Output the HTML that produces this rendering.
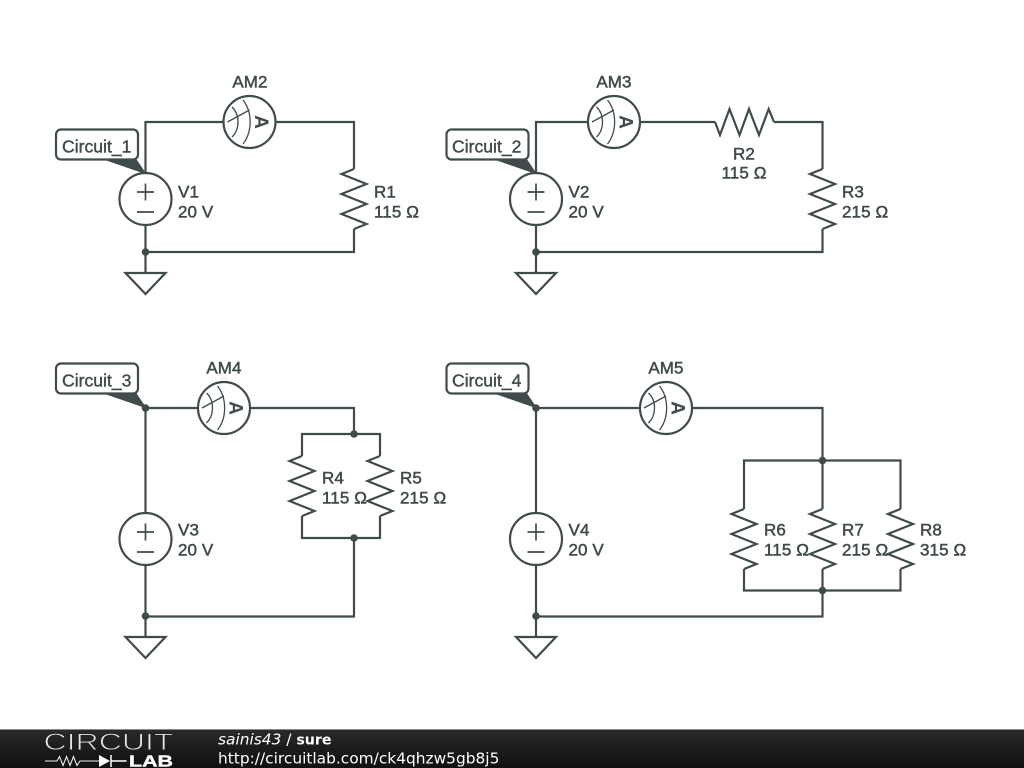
<!DOCTYPE html>
<html><head><meta charset="utf-8"><style>
html,body{margin:0;padding:0;background:#fff;width:1024px;height:768px;overflow:hidden}
svg{display:block;position:absolute;left:0;top:0}
.w{fill:none;stroke:#404b4b;stroke-width:2.2;stroke-linejoin:miter}
.t{font-family:"Liberation Sans",sans-serif;font-size:17px;letter-spacing:.1px;font-weight:400;fill:#404b4b;stroke:#404b4b;stroke-width:.5}
.c{font-family:"Liberation Sans",sans-serif;font-size:17.6px;fill:#404b4b;stroke:#404b4b;stroke-width:.4}
.f{font-family:"DejaVu Sans",sans-serif;font-size:15.4px;fill:#fff}
</style></head><body>
<svg width="1024" height="768" viewBox="0 0 1024 768" xmlns="http://www.w3.org/2000/svg">
<defs>
<linearGradient id="bar" x1="0" y1="0" x2="0" y2="1"><stop offset="0" stop-color="#2a2a2a"/><stop offset=".5" stop-color="#1c1c1c"/><stop offset="1" stop-color="#111"/></linearGradient>
<g id="rv"><path class="w" d="M0-30L-12.500-25L12.500-15L-12.500-5L12.500 5L-12.500 15L12.500 25L0 30"/></g>
<g id="v"><circle class="w" r="26"/><path d="M-8.500-7H8.500M0-15.500V1.500M-8.500 13H8.500" fill="none" stroke="#404b4b" stroke-width="1.700"/></g>
<g id="am"><circle class="w" r="26"/><path d="M-17.500 15C-10 8-9-7-17.500-15M-6.500 22C3 10 3-10-6.500-22M-22 0L0-12" fill="none" stroke="#404b4b" stroke-width="1.300"/><text transform="translate(12 0) rotate(90)" text-anchor="middle" dy="6.500" font-family="Liberation Sans,sans-serif" font-weight="700" font-size="19" fill="#404b4b">A</text></g>
<g id="gnd"><path class="w" d="M0 0V21M-20 21H20L0 42Z"/></g>
<g id="lb"><path d="M49 30L80 30L89.500 44Z" fill="#404b4b" stroke="#404b4b" stroke-width="1"/><rect x="0" y="0" width="82" height="30" rx="5" fill="#fff" stroke="#404b4b" stroke-width="2.200"/></g>
</defs>

<!-- Circuit 1 -->
<path class="w" d="M145.500 173V122H223M276 122H354V169M354 229V252H145.500M145.500 225V252"/>
<use href="#am" x="249.500" y="122"/><use href="#v" x="145.500" y="199"/><use href="#rv" x="354" y="199"/>
<circle cx="145.500" cy="252" r="3.800" fill="#404b4b"/><use href="#gnd" x="145.500" y="252"/>
<use href="#lb" x="56" y="129.500"/>
<text class="c" x="62" y="152.300">Circuit_1</text>
<text class="t" x="250" y="87.300" text-anchor="middle">AM2</text>
<text class="t" x="178" y="197.300">V1</text><text class="t" x="178" y="217.300">20 V</text>
<text class="t" x="374" y="197.300">R1</text><text class="t" x="374" y="217.300">115 Ω</text>

<!-- Circuit 2 -->
<path class="w" d="M536 173V122H588M641 122H715M774 122H822.500V169M822.500 229V252H536M536 225V252"/>
<use href="#am" x="614" y="122"/><use href="#v" x="536" y="199"/><use href="#rv" x="822.500" y="199"/>
<path class="w" d="M715 122L720 135L729.500 109L739.500 135L749 109L759 135L768.700 109L774 122"/>
<circle cx="536" cy="252" r="3.800" fill="#404b4b"/><use href="#gnd" x="536" y="252"/>
<use href="#lb" x="446.500" y="129.500"/>
<text class="c" x="452" y="152.300">Circuit_2</text>
<text class="t" x="614" y="87.300" text-anchor="middle">AM3</text>
<text class="t" x="568.500" y="197.300">V2</text><text class="t" x="568.500" y="217.300">20 V</text>
<text class="t" x="744" y="159.300" text-anchor="middle">R2</text><text class="t" x="744" y="178.300" text-anchor="middle">115 Ω</text>
<text class="t" x="842" y="197.300">R3</text><text class="t" x="842" y="217.300">215 Ω</text>

<!-- Circuit 3 -->
<path class="w" d="M145.500 408H198M250 408H354V434M302 456V434H380V456M302 516V538H380V516M354 538V616.500H145.500M145.500 408V513M145.500 565V616"/>
<use href="#am" x="224" y="408"/><use href="#v" x="145.500" y="539"/><use href="#rv" x="302" y="486"/><use href="#rv" x="380" y="486"/>
<circle cx="145.500" cy="408" r="3.800" fill="#404b4b"/><circle cx="354" cy="434" r="3.800" fill="#404b4b"/><circle cx="354" cy="538" r="3.800" fill="#404b4b"/><circle cx="145.500" cy="616" r="3.800" fill="#404b4b"/>
<use href="#gnd" x="145.500" y="616"/>
<use href="#lb" x="56" y="363.500"/>
<text class="c" x="62" y="386.300">Circuit_3</text>
<text class="t" x="224" y="373.300" text-anchor="middle">AM4</text>
<text class="t" x="178" y="535.300">V3</text><text class="t" x="178" y="555.300">20 V</text>
<text class="t" x="322" y="483.300">R4</text><text class="t" x="322" y="503.300">115 Ω</text>
<text class="t" x="400" y="483.300">R5</text><text class="t" x="400" y="503.300">215 Ω</text>

<!-- Circuit 4 -->
<path class="w" d="M536 408H640M693 408H822.500V509M744 509V460.500H900.500V509M744 569V590.500H900.500V569M822.500 569V616.500H536M536 408V513M536 565V616"/>
<use href="#am" x="666" y="408"/><use href="#v" x="536" y="539"/><use href="#rv" x="744" y="539"/><use href="#rv" x="822.500" y="539"/><use href="#rv" x="900.500" y="539"/>
<circle cx="536" cy="408" r="3.800" fill="#404b4b"/><circle cx="822.500" cy="460.500" r="3.800" fill="#404b4b"/><circle cx="822.500" cy="590.500" r="3.800" fill="#404b4b"/><circle cx="536" cy="616" r="3.800" fill="#404b4b"/>
<use href="#gnd" x="536" y="616"/>
<use href="#lb" x="446.500" y="363.500"/>
<text class="c" x="452" y="386.300">Circuit_4</text>
<text class="t" x="666" y="373.300" text-anchor="middle">AM5</text>
<text class="t" x="568.500" y="535.300">V4</text><text class="t" x="568.500" y="555.300">20 V</text>
<text class="t" x="764" y="535.300">R6</text><text class="t" x="764" y="555.300">115 Ω</text>
<text class="t" x="842" y="535.300">R7</text><text class="t" x="842" y="555.300">215 Ω</text>
<text class="t" x="920" y="535.300">R8</text><text class="t" x="920" y="555.300">315 Ω</text>

<!-- Footer -->
<rect x="0" y="729" width="1024" height="39" fill="url(#bar)"/>
<rect x="0" y="729" width="1024" height="1" fill="#8a8a8a"/>
<text x="43.500" y="750" font-family="Liberation Sans,sans-serif" font-size="24.500" fill="#e8e8e8" stroke="#222" stroke-width=".9" textLength="130" lengthAdjust="spacingAndGlyphs">CIRCUIT</text>
<path d="M45 761H57L59.500 756.500L63 765.500L66.500 756.500L70 765.500L73.500 756.500L77 765.500L80 761H99M124 761H127" fill="none" stroke="#eee" stroke-width="1.100"/>
<path d="M99 755L110 761L99 767Z" fill="#fff"/><path d="M111 755V767M111 761H126" stroke="#fff" stroke-width="1.500"/>
<text x="129" y="766.500" font-family="Liberation Sans,sans-serif" font-weight="700" font-size="16" fill="#fff" stroke="#fff" stroke-width=".4" textLength="44" lengthAdjust="spacingAndGlyphs">LAB</text>
<text class="f" x="218" y="744.500"><tspan font-style="italic">sainis43</tspan> / <tspan font-weight="700" font-size="14.200">sure</tspan></text>
<text class="f" x="218" y="763.500">http://circuitlab.com/ck4qhzw5gb8j5</text>
</svg>
</body></html>
